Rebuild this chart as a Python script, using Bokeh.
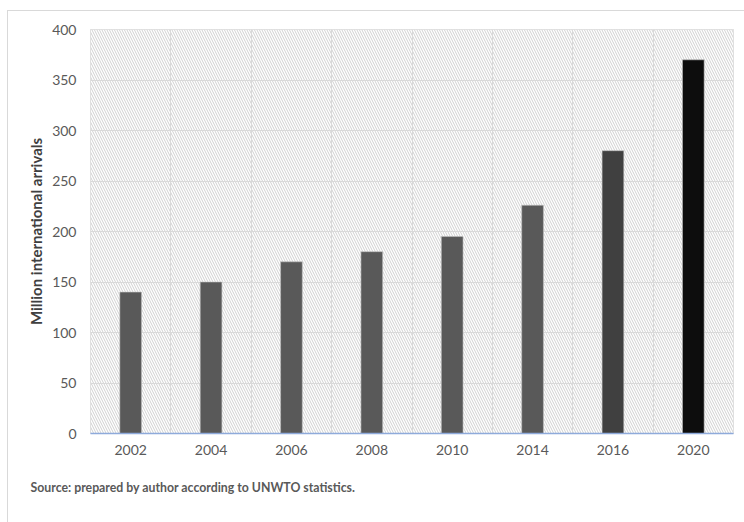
from bokeh.plotting import figure
from bokeh.models import Range1d, FixedTicker, Title
from bokeh.embed import file_html
from bokeh.resources import INLINE

years = ["2002", "2004", "2006", "2008", "2010", "2014", "2016", "2020"]
arrivals = [140, 150, 170, 180, 195, 226, 280, 370]
bar_colors = ["#595959", "#595959", "#595959", "#595959", "#595959", "#595959", "#404040", "#0d0d0d"]
y_ticks = [0, 50, 100, 150, 200, 250, 300, 350, 400]
source_note = "Source: prepared by author according to UNWTO statistics."
y_title = "Million international arrivals"

xs = list(range(1, len(years) + 1))

p = figure(width=737, height=512, output_backend="svg", toolbar_location=None,
           x_range=Range1d(0.5, len(years) + 0.5), y_range=Range1d(0, 400),
           min_border_left=82, min_border_right=12, min_border_top=18, min_border_bottom=90)
p.margin = (10, 0, 0, 7)
p.styles = {"border-top": "1px solid #d9d9d9", "border-left": "1px solid #d9d9d9"}
p.background_fill_color = "white"
p.border_fill_color = "white"
p.outline_line_color = "#d9d9d9"
p.outline_line_width = 1

# hatched plot-area background
p.quad(left=[0.5], right=[len(years) + 0.5], bottom=[0], top=[400], fill_color="white",
       line_color=None, hatch_pattern="\\", hatch_color="#d0d0d0", hatch_scale=5,
       hatch_weight=1, level="image")

p.vbar(x=xs, top=arrivals, width=0.27, fill_color=bar_colors, line_color="#bfbfbf", line_width=0.6)

# axes
p.yaxis.ticker = FixedTicker(ticks=y_ticks)
p.yaxis.axis_line_color = None
p.yaxis.major_tick_line_color = None
p.yaxis.minor_tick_line_color = None
p.yaxis.major_tick_out = 0
p.yaxis.major_tick_in = 0
p.yaxis.major_label_standoff = 14
p.yaxis.major_label_text_font = "Lato"
p.yaxis.major_label_text_font_size = "14px"
p.yaxis.major_label_text_color = "#595959"
p.yaxis.axis_label = y_title
p.yaxis.axis_label_text_font = "Lato"
p.yaxis.axis_label_text_font_style = "bold"
p.yaxis.axis_label_text_font_size = "15px"
p.yaxis.axis_label_text_color = "#404040"
p.yaxis.axis_label_standoff = 4

p.xaxis.ticker = FixedTicker(ticks=xs)
p.xaxis.major_label_overrides = {x: y for x, y in zip(xs, years)}
p.xaxis.axis_line_color = "#8eaadb"
p.xaxis.axis_line_width = 1.5
p.xaxis.major_tick_line_color = None
p.xaxis.minor_tick_line_color = None
p.xaxis.major_tick_out = 0
p.xaxis.major_tick_in = 0
p.xaxis.major_label_standoff = 11
p.xaxis.major_label_text_font = "Lato"
p.xaxis.major_label_text_font_size = "14px"
p.xaxis.major_label_text_color = "#595959"

# grids
p.ygrid.ticker = FixedTicker(ticks=y_ticks)
p.ygrid.grid_line_color = "#d9d9d9"
p.ygrid.grid_line_width = 1
p.xgrid.ticker = FixedTicker(ticks=[x + 0.5 for x in xs[:-1]])
p.xgrid.grid_line_color = "#d9d9d9"
p.xgrid.grid_line_width = 1

p.add_layout(Title(text=source_note, align="left", offset=-60, standoff=40,
                   text_font="Lato", text_font_style="bold", text_font_size="12.3px",
                   text_color="#595959"), "below")

open("out.html", "w").write(file_html(p, INLINE))
